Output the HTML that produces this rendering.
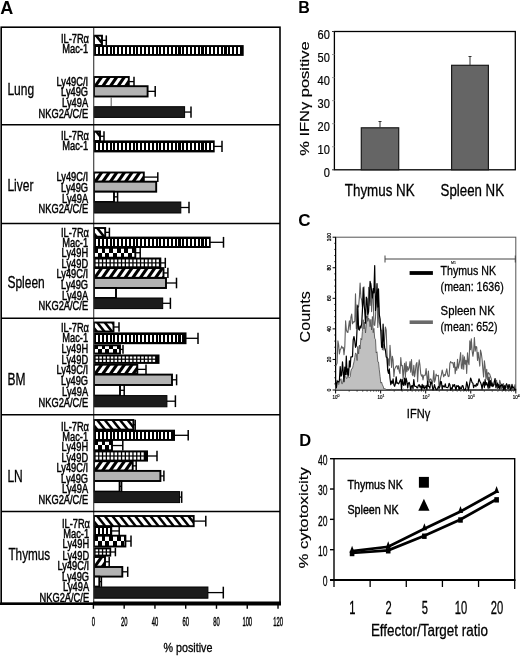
<!DOCTYPE html>
<html lang="en"><head><meta charset="utf-8"><title>Figure</title>
<style>html,body{margin:0;padding:0;background:#fff;overflow:hidden}svg{display:block}</style></head>
<body>
<svg width="520" height="656" viewBox="0 0 520 656" font-family='"Liberation Sans", Arial, sans-serif'>
<rect width="520" height="656" fill="#fff"/>
<text transform="translate(0.30,14.00)" font-size="18" text-anchor="start" font-weight="bold" fill="#000" stroke="#000" stroke-width="0">A</text>
<text transform="translate(298.30,12.50)" font-size="16" text-anchor="start" font-weight="bold" fill="#000" stroke="#000" stroke-width="0">B</text>
<text transform="translate(298.20,225.50)" font-size="17" text-anchor="start" font-weight="bold" fill="#000" stroke="#000" stroke-width="0">C</text>
<text transform="translate(299.20,446.30)" font-size="16.5" text-anchor="start" font-weight="bold" fill="#000" stroke="#000" stroke-width="0">D</text>
<svg x="94.00" y="35.70" width="8.00" height="9.30" viewBox="0 0 8.00 9.30"><polygon points="0.60,0 3.79,0 11.23,9.30 8.04,9.30" fill="#000"/></svg>
<rect x="94.00" y="35.70" width="8.00" height="9.30" fill="none" stroke="#000" stroke-width="1.9"/>
<line x1="102.00" y1="40.35" x2="106.30" y2="40.35" stroke="#000" stroke-width="1.3"/>
<line x1="106.30" y1="35.40" x2="106.30" y2="45.30" stroke="#000" stroke-width="1.5"/>
<rect x="93.50" y="45.10" width="150.20" height="10.80" fill="#000" stroke="none" stroke-width="1"/>
<g fill="#fff" shape-rendering="crispEdges"><rect x="96.30" y="47.30" width="1.75" height="6.40"/><rect x="100.13" y="47.30" width="1.75" height="6.40"/><rect x="103.96" y="47.30" width="1.75" height="6.40"/><rect x="107.79" y="47.30" width="1.75" height="6.40"/><rect x="111.62" y="47.30" width="1.75" height="6.40"/><rect x="115.45" y="47.30" width="1.75" height="6.40"/><rect x="119.28" y="47.30" width="1.75" height="6.40"/><rect x="123.11" y="47.30" width="1.75" height="6.40"/><rect x="126.94" y="47.30" width="1.75" height="6.40"/><rect x="130.77" y="47.30" width="1.75" height="6.40"/><rect x="134.60" y="47.30" width="1.75" height="6.40"/><rect x="138.43" y="47.30" width="1.75" height="6.40"/><rect x="142.26" y="47.30" width="1.75" height="6.40"/><rect x="146.09" y="47.30" width="1.75" height="6.40"/><rect x="149.92" y="47.30" width="1.75" height="6.40"/><rect x="153.75" y="47.30" width="1.75" height="6.40"/><rect x="157.58" y="47.30" width="1.75" height="6.40"/><rect x="161.41" y="47.30" width="1.75" height="6.40"/><rect x="165.24" y="47.30" width="1.75" height="6.40"/><rect x="169.07" y="47.30" width="1.75" height="6.40"/><rect x="172.90" y="47.30" width="1.75" height="6.40"/><rect x="176.73" y="47.30" width="1.75" height="6.40"/><rect x="180.56" y="47.30" width="1.75" height="6.40"/><rect x="184.39" y="47.30" width="1.75" height="6.40"/><rect x="188.22" y="47.30" width="1.75" height="6.40"/><rect x="192.05" y="47.30" width="1.75" height="6.40"/><rect x="195.88" y="47.30" width="1.75" height="6.40"/><rect x="199.71" y="47.30" width="1.75" height="6.40"/><rect x="203.54" y="47.30" width="1.75" height="6.40"/><rect x="207.37" y="47.30" width="1.75" height="6.40"/><rect x="211.20" y="47.30" width="1.75" height="6.40"/><rect x="215.03" y="47.30" width="1.75" height="6.40"/><rect x="218.86" y="47.30" width="1.75" height="6.40"/><rect x="222.69" y="47.30" width="1.75" height="6.40"/><rect x="226.52" y="47.30" width="1.75" height="6.40"/><rect x="230.35" y="47.30" width="1.75" height="6.40"/><rect x="234.18" y="47.30" width="1.75" height="6.40"/><rect x="238.01" y="47.30" width="1.75" height="6.40"/></g>
<svg x="94.00" y="77.00" width="34.80" height="9.20" viewBox="0 0 34.80 9.20"><polygon points="-17.10,0 -13.30,0 -19.74,9.20 -23.54,9.20" fill="#000"/><polygon points="-9.50,0 -5.70,0 -12.14,9.20 -15.94,9.20" fill="#000"/><polygon points="-1.90,0 1.90,0 -4.54,9.20 -8.34,9.20" fill="#000"/><polygon points="5.70,0 9.50,0 3.06,9.20 -0.74,9.20" fill="#000"/><polygon points="13.30,0 17.10,0 10.66,9.20 6.86,9.20" fill="#000"/><polygon points="20.90,0 24.70,0 18.26,9.20 14.46,9.20" fill="#000"/><polygon points="28.50,0 32.30,0 25.86,9.20 22.06,9.20" fill="#000"/><polygon points="36.10,0 39.90,0 33.46,9.20 29.66,9.20" fill="#000"/></svg>
<rect x="94.00" y="77.00" width="34.80" height="9.20" fill="none" stroke="#000" stroke-width="1.9"/>
<line x1="128.80" y1="81.60" x2="134.00" y2="81.60" stroke="#000" stroke-width="1.3"/>
<line x1="134.00" y1="76.70" x2="134.00" y2="86.50" stroke="#000" stroke-width="1.5"/>
<rect x="94.00" y="86.20" width="53.60" height="10.30" fill="#b3b3b3" stroke="#000" stroke-width="1.9"/>
<line x1="147.60" y1="91.35" x2="155.20" y2="91.35" stroke="#000" stroke-width="1.3"/>
<line x1="155.20" y1="85.90" x2="155.20" y2="96.80" stroke="#000" stroke-width="1.5"/>
<line x1="111.20" y1="97.30" x2="111.20" y2="106.20" stroke="#666" stroke-width="1.1"/>
<rect x="94.00" y="106.70" width="90.60" height="10.70" fill="#1c1c1c" stroke="#000" stroke-width="1"/>
<line x1="184.60" y1="112.05" x2="191.00" y2="112.05" stroke="#000" stroke-width="1.3"/>
<line x1="191.00" y1="106.40" x2="191.00" y2="117.70" stroke="#000" stroke-width="1.5"/>
<text transform="translate(89.00,42.90) scale(0.775,1)" font-size="12" text-anchor="end" fill="#000" stroke="#000" stroke-width="0.45">IL-7Rα</text>
<text transform="translate(88.10,53.40) scale(0.775,1)" font-size="12" text-anchor="end" fill="#000" stroke="#000" stroke-width="0.45">Mac-1</text>
<text transform="translate(88.10,85.80) scale(0.775,1)" font-size="12" text-anchor="end" fill="#000" stroke="#000" stroke-width="0.45">Ly49C/I</text>
<text transform="translate(88.10,96.30) scale(0.775,1)" font-size="12" text-anchor="end" fill="#000" stroke="#000" stroke-width="0.45">Ly49G</text>
<text transform="translate(88.10,107.00) scale(0.775,1)" font-size="12" text-anchor="end" fill="#000" stroke="#000" stroke-width="0.45">Ly49A</text>
<text transform="translate(88.10,117.90) scale(0.775,1)" font-size="12" text-anchor="end" fill="#000" stroke="#000" stroke-width="0.45">NKG2A/C/E</text>
<text transform="translate(7.40,94.60) scale(0.76,1)" font-size="15.8" text-anchor="start" fill="#000" stroke="#000" stroke-width="0.3">Lung</text>
<svg x="94.00" y="131.50" width="6.00" height="9.50" viewBox="0 0 6.00 9.50"><polygon points="0.60,0 3.79,0 11.39,9.50 8.20,9.50" fill="#000"/></svg>
<rect x="94.00" y="131.50" width="6.00" height="9.50" fill="none" stroke="#000" stroke-width="1.9"/>
<line x1="100.00" y1="136.25" x2="104.00" y2="136.25" stroke="#000" stroke-width="1.3"/>
<line x1="104.00" y1="131.20" x2="104.00" y2="141.30" stroke="#000" stroke-width="1.5"/>
<rect x="93.50" y="140.40" width="121.20" height="12.00" fill="#000" stroke="none" stroke-width="1"/>
<g fill="#fff" shape-rendering="crispEdges"><rect x="96.30" y="142.60" width="1.75" height="7.60"/><rect x="100.13" y="142.60" width="1.75" height="7.60"/><rect x="103.96" y="142.60" width="1.75" height="7.60"/><rect x="107.79" y="142.60" width="1.75" height="7.60"/><rect x="111.62" y="142.60" width="1.75" height="7.60"/><rect x="115.45" y="142.60" width="1.75" height="7.60"/><rect x="119.28" y="142.60" width="1.75" height="7.60"/><rect x="123.11" y="142.60" width="1.75" height="7.60"/><rect x="126.94" y="142.60" width="1.75" height="7.60"/><rect x="130.77" y="142.60" width="1.75" height="7.60"/><rect x="134.60" y="142.60" width="1.75" height="7.60"/><rect x="138.43" y="142.60" width="1.75" height="7.60"/><rect x="142.26" y="142.60" width="1.75" height="7.60"/><rect x="146.09" y="142.60" width="1.75" height="7.60"/><rect x="149.92" y="142.60" width="1.75" height="7.60"/><rect x="153.75" y="142.60" width="1.75" height="7.60"/><rect x="157.58" y="142.60" width="1.75" height="7.60"/><rect x="161.41" y="142.60" width="1.75" height="7.60"/><rect x="165.24" y="142.60" width="1.75" height="7.60"/><rect x="169.07" y="142.60" width="1.75" height="7.60"/><rect x="172.90" y="142.60" width="1.75" height="7.60"/><rect x="176.73" y="142.60" width="1.75" height="7.60"/><rect x="180.56" y="142.60" width="1.75" height="7.60"/><rect x="184.39" y="142.60" width="1.75" height="7.60"/><rect x="188.22" y="142.60" width="1.75" height="7.60"/><rect x="192.05" y="142.60" width="1.75" height="7.60"/><rect x="195.88" y="142.60" width="1.75" height="7.60"/><rect x="199.71" y="142.60" width="1.75" height="7.60"/><rect x="203.54" y="142.60" width="1.75" height="7.60"/><rect x="207.37" y="142.60" width="1.75" height="7.60"/><rect x="211.20" y="142.60" width="1.75" height="7.60"/></g>
<line x1="214.00" y1="146.40" x2="222.00" y2="146.40" stroke="#000" stroke-width="1.3"/>
<line x1="222.00" y1="140.70" x2="222.00" y2="152.10" stroke="#000" stroke-width="1.5"/>
<svg x="94.00" y="172.50" width="49.80" height="9.20" viewBox="0 0 49.80 9.20"><polygon points="-17.10,0 -13.30,0 -19.74,9.20 -23.54,9.20" fill="#000"/><polygon points="-9.50,0 -5.70,0 -12.14,9.20 -15.94,9.20" fill="#000"/><polygon points="-1.90,0 1.90,0 -4.54,9.20 -8.34,9.20" fill="#000"/><polygon points="5.70,0 9.50,0 3.06,9.20 -0.74,9.20" fill="#000"/><polygon points="13.30,0 17.10,0 10.66,9.20 6.86,9.20" fill="#000"/><polygon points="20.90,0 24.70,0 18.26,9.20 14.46,9.20" fill="#000"/><polygon points="28.50,0 32.30,0 25.86,9.20 22.06,9.20" fill="#000"/><polygon points="36.10,0 39.90,0 33.46,9.20 29.66,9.20" fill="#000"/><polygon points="43.70,0 47.50,0 41.06,9.20 37.26,9.20" fill="#000"/><polygon points="51.30,0 55.10,0 48.66,9.20 44.86,9.20" fill="#000"/></svg>
<rect x="94.00" y="172.50" width="49.80" height="9.20" fill="none" stroke="#000" stroke-width="1.9"/>
<line x1="143.80" y1="177.10" x2="157.80" y2="177.10" stroke="#000" stroke-width="1.3"/>
<line x1="157.80" y1="172.20" x2="157.80" y2="182.00" stroke="#000" stroke-width="1.5"/>
<rect x="94.00" y="181.70" width="62.20" height="10.00" fill="#b3b3b3" stroke="#000" stroke-width="1.9"/>
<rect x="94.00" y="191.70" width="20.00" height="10.30" fill="#fff" stroke="#000" stroke-width="1.9"/>
<line x1="114.00" y1="196.85" x2="117.60" y2="196.85" stroke="#000" stroke-width="1.3"/>
<line x1="117.60" y1="191.40" x2="117.60" y2="202.30" stroke="#000" stroke-width="1.5"/>
<rect x="94.00" y="202.00" width="86.80" height="11.00" fill="#1c1c1c" stroke="#000" stroke-width="1"/>
<line x1="180.80" y1="207.50" x2="189.00" y2="207.50" stroke="#000" stroke-width="1.3"/>
<line x1="189.00" y1="201.70" x2="189.00" y2="213.30" stroke="#000" stroke-width="1.5"/>
<text transform="translate(89.00,139.60) scale(0.775,1)" font-size="12" text-anchor="end" fill="#000" stroke="#000" stroke-width="0.45">IL-7Rα</text>
<text transform="translate(88.10,150.00) scale(0.775,1)" font-size="12" text-anchor="end" fill="#000" stroke="#000" stroke-width="0.45">Mac-1</text>
<text transform="translate(88.10,181.40) scale(0.775,1)" font-size="12" text-anchor="end" fill="#000" stroke="#000" stroke-width="0.45">Ly49C/I</text>
<text transform="translate(88.10,191.60) scale(0.775,1)" font-size="12" text-anchor="end" fill="#000" stroke="#000" stroke-width="0.45">Ly49G</text>
<text transform="translate(88.10,202.50) scale(0.775,1)" font-size="12" text-anchor="end" fill="#000" stroke="#000" stroke-width="0.45">Ly49A</text>
<text transform="translate(88.10,213.20) scale(0.775,1)" font-size="12" text-anchor="end" fill="#000" stroke="#000" stroke-width="0.45">NKG2A/C/E</text>
<text transform="translate(7.40,191.00) scale(0.76,1)" font-size="15.8" text-anchor="start" fill="#000" stroke="#000" stroke-width="0.3">Liver</text>
<svg x="94.00" y="228.00" width="11.20" height="8.70" viewBox="0 0 11.20 8.70"><polygon points="-21.20,0 -18.01,0 -11.05,8.70 -14.24,8.70" fill="#000"/><polygon points="-13.60,0 -10.41,0 -3.45,8.70 -6.64,8.70" fill="#000"/><polygon points="-6.00,0 -2.81,0 4.15,8.70 0.96,8.70" fill="#000"/><polygon points="1.60,0 4.79,0 11.75,8.70 8.56,8.70" fill="#000"/><polygon points="9.20,0 12.39,0 19.35,8.70 16.16,8.70" fill="#000"/></svg>
<rect x="94.00" y="228.00" width="11.20" height="8.70" fill="none" stroke="#000" stroke-width="1.9"/>
<line x1="105.20" y1="232.35" x2="109.40" y2="232.35" stroke="#000" stroke-width="1.3"/>
<line x1="109.40" y1="227.70" x2="109.40" y2="237.00" stroke="#000" stroke-width="1.5"/>
<rect x="93.50" y="236.60" width="117.20" height="11.40" fill="#000" stroke="none" stroke-width="1"/>
<g fill="#fff" shape-rendering="crispEdges"><rect x="96.30" y="238.80" width="1.75" height="7.00"/><rect x="100.13" y="238.80" width="1.75" height="7.00"/><rect x="103.96" y="238.80" width="1.75" height="7.00"/><rect x="107.79" y="238.80" width="1.75" height="7.00"/><rect x="111.62" y="238.80" width="1.75" height="7.00"/><rect x="115.45" y="238.80" width="1.75" height="7.00"/><rect x="119.28" y="238.80" width="1.75" height="7.00"/><rect x="123.11" y="238.80" width="1.75" height="7.00"/><rect x="126.94" y="238.80" width="1.75" height="7.00"/><rect x="130.77" y="238.80" width="1.75" height="7.00"/><rect x="134.60" y="238.80" width="1.75" height="7.00"/><rect x="138.43" y="238.80" width="1.75" height="7.00"/><rect x="142.26" y="238.80" width="1.75" height="7.00"/><rect x="146.09" y="238.80" width="1.75" height="7.00"/><rect x="149.92" y="238.80" width="1.75" height="7.00"/><rect x="153.75" y="238.80" width="1.75" height="7.00"/><rect x="157.58" y="238.80" width="1.75" height="7.00"/><rect x="161.41" y="238.80" width="1.75" height="7.00"/><rect x="165.24" y="238.80" width="1.75" height="7.00"/><rect x="169.07" y="238.80" width="1.75" height="7.00"/><rect x="172.90" y="238.80" width="1.75" height="7.00"/><rect x="176.73" y="238.80" width="1.75" height="7.00"/><rect x="180.56" y="238.80" width="1.75" height="7.00"/><rect x="184.39" y="238.80" width="1.75" height="7.00"/><rect x="188.22" y="238.80" width="1.75" height="7.00"/><rect x="192.05" y="238.80" width="1.75" height="7.00"/><rect x="195.88" y="238.80" width="1.75" height="7.00"/><rect x="199.71" y="238.80" width="1.75" height="7.00"/><rect x="203.54" y="238.80" width="1.75" height="7.00"/><rect x="207.37" y="238.80" width="1.75" height="7.00"/></g>
<line x1="210.00" y1="242.30" x2="223.50" y2="242.30" stroke="#000" stroke-width="1.3"/>
<line x1="223.50" y1="236.90" x2="223.50" y2="247.70" stroke="#000" stroke-width="1.5"/>
<rect x="94.00" y="247.80" width="41.30" height="9.90" fill="#fff" stroke="#000" stroke-width="1.9"/>
<g fill="#000" shape-rendering="crispEdges"><rect x="94.00" y="248.20" width="3.80" height="4.35"/><rect x="101.60" y="248.20" width="3.80" height="4.35"/><rect x="109.20" y="248.20" width="3.80" height="4.35"/><rect x="116.80" y="248.20" width="3.80" height="4.35"/><rect x="124.40" y="248.20" width="3.80" height="4.35"/><rect x="132.00" y="248.20" width="3.30" height="4.35"/><rect x="97.80" y="252.55" width="3.80" height="4.35"/><rect x="105.40" y="252.55" width="3.80" height="4.35"/><rect x="113.00" y="252.55" width="3.80" height="4.35"/><rect x="120.60" y="252.55" width="3.80" height="4.35"/><rect x="128.20" y="252.55" width="3.80" height="4.35"/></g>
<line x1="135.30" y1="252.75" x2="140.20" y2="252.75" stroke="#000" stroke-width="1.3"/>
<line x1="140.20" y1="247.50" x2="140.20" y2="258.00" stroke="#000" stroke-width="1.5"/>
<rect x="93.50" y="257.50" width="67.80" height="10.80" fill="#000" stroke="none" stroke-width="1"/>
<g fill="#fff"><rect x="95.60" y="259.50" width="2.5" height="2.80"/><rect x="99.40" y="259.50" width="2.5" height="2.80"/><rect x="103.20" y="259.50" width="2.5" height="2.80"/><rect x="107.00" y="259.50" width="2.5" height="2.80"/><rect x="110.80" y="259.50" width="2.5" height="2.80"/><rect x="114.60" y="259.50" width="2.5" height="2.80"/><rect x="118.40" y="259.50" width="2.5" height="2.80"/><rect x="122.20" y="259.50" width="2.5" height="2.80"/><rect x="126.00" y="259.50" width="2.5" height="2.80"/><rect x="129.80" y="259.50" width="2.5" height="2.80"/><rect x="133.60" y="259.50" width="2.5" height="2.80"/><rect x="137.40" y="259.50" width="2.5" height="2.80"/><rect x="141.20" y="259.50" width="2.5" height="2.80"/><rect x="145.00" y="259.50" width="2.5" height="2.80"/><rect x="148.80" y="259.50" width="2.5" height="2.80"/><rect x="152.60" y="259.50" width="2.5" height="2.80"/><rect x="156.40" y="259.50" width="2.5" height="2.80"/><rect x="95.60" y="263.50" width="2.5" height="2.80"/><rect x="99.40" y="263.50" width="2.5" height="2.80"/><rect x="103.20" y="263.50" width="2.5" height="2.80"/><rect x="107.00" y="263.50" width="2.5" height="2.80"/><rect x="110.80" y="263.50" width="2.5" height="2.80"/><rect x="114.60" y="263.50" width="2.5" height="2.80"/><rect x="118.40" y="263.50" width="2.5" height="2.80"/><rect x="122.20" y="263.50" width="2.5" height="2.80"/><rect x="126.00" y="263.50" width="2.5" height="2.80"/><rect x="129.80" y="263.50" width="2.5" height="2.80"/><rect x="133.60" y="263.50" width="2.5" height="2.80"/><rect x="137.40" y="263.50" width="2.5" height="2.80"/><rect x="141.20" y="263.50" width="2.5" height="2.80"/><rect x="145.00" y="263.50" width="2.5" height="2.80"/><rect x="148.80" y="263.50" width="2.5" height="2.80"/><rect x="152.60" y="263.50" width="2.5" height="2.80"/><rect x="156.40" y="263.50" width="2.5" height="2.80"/></g>
<line x1="160.60" y1="262.90" x2="165.30" y2="262.90" stroke="#000" stroke-width="1.3"/>
<line x1="165.30" y1="257.80" x2="165.30" y2="268.00" stroke="#000" stroke-width="1.5"/>
<svg x="94.00" y="268.10" width="69.50" height="9.70" viewBox="0 0 69.50 9.70"><polygon points="-17.10,0 -13.30,0 -20.09,9.70 -23.89,9.70" fill="#000"/><polygon points="-9.50,0 -5.70,0 -12.49,9.70 -16.29,9.70" fill="#000"/><polygon points="-1.90,0 1.90,0 -4.89,9.70 -8.69,9.70" fill="#000"/><polygon points="5.70,0 9.50,0 2.71,9.70 -1.09,9.70" fill="#000"/><polygon points="13.30,0 17.10,0 10.31,9.70 6.51,9.70" fill="#000"/><polygon points="20.90,0 24.70,0 17.91,9.70 14.11,9.70" fill="#000"/><polygon points="28.50,0 32.30,0 25.51,9.70 21.71,9.70" fill="#000"/><polygon points="36.10,0 39.90,0 33.11,9.70 29.31,9.70" fill="#000"/><polygon points="43.70,0 47.50,0 40.71,9.70 36.91,9.70" fill="#000"/><polygon points="51.30,0 55.10,0 48.31,9.70 44.51,9.70" fill="#000"/><polygon points="58.90,0 62.70,0 55.91,9.70 52.11,9.70" fill="#000"/><polygon points="66.50,0 70.30,0 63.51,9.70 59.71,9.70" fill="#000"/><polygon points="74.10,0 77.90,0 71.11,9.70 67.31,9.70" fill="#000"/></svg>
<rect x="94.00" y="268.10" width="69.50" height="9.70" fill="none" stroke="#000" stroke-width="1.9"/>
<line x1="163.50" y1="272.95" x2="167.90" y2="272.95" stroke="#000" stroke-width="1.3"/>
<line x1="167.90" y1="267.80" x2="167.90" y2="278.10" stroke="#000" stroke-width="1.5"/>
<rect x="94.00" y="278.00" width="72.00" height="10.00" fill="#b3b3b3" stroke="#000" stroke-width="1.9"/>
<line x1="166.00" y1="283.00" x2="176.50" y2="283.00" stroke="#000" stroke-width="1.3"/>
<line x1="176.50" y1="277.70" x2="176.50" y2="288.30" stroke="#000" stroke-width="1.5"/>
<rect x="94.00" y="288.00" width="22.00" height="10.00" fill="#fff" stroke="#000" stroke-width="1.9"/>
<rect x="94.00" y="298.00" width="68.70" height="10.60" fill="#1c1c1c" stroke="#000" stroke-width="1"/>
<line x1="162.70" y1="303.30" x2="170.40" y2="303.30" stroke="#000" stroke-width="1.3"/>
<line x1="170.40" y1="297.70" x2="170.40" y2="308.90" stroke="#000" stroke-width="1.5"/>
<text transform="translate(89.00,236.80) scale(0.775,1)" font-size="12" text-anchor="end" fill="#000" stroke="#000" stroke-width="0.45">IL-7Rα</text>
<text transform="translate(88.10,247.40) scale(0.775,1)" font-size="12" text-anchor="end" fill="#000" stroke="#000" stroke-width="0.45">Mac-1</text>
<text transform="translate(88.10,257.40) scale(0.775,1)" font-size="12" text-anchor="end" fill="#000" stroke="#000" stroke-width="0.45">Ly49H</text>
<text transform="translate(88.10,267.80) scale(0.775,1)" font-size="12" text-anchor="end" fill="#000" stroke="#000" stroke-width="0.45">Ly49D</text>
<text transform="translate(88.10,278.30) scale(0.775,1)" font-size="12" text-anchor="end" fill="#000" stroke="#000" stroke-width="0.45">Ly49C/I</text>
<text transform="translate(88.10,289.20) scale(0.775,1)" font-size="12" text-anchor="end" fill="#000" stroke="#000" stroke-width="0.45">Ly49G</text>
<text transform="translate(88.10,299.90) scale(0.775,1)" font-size="12" text-anchor="end" fill="#000" stroke="#000" stroke-width="0.45">Ly49A</text>
<text transform="translate(88.10,310.20) scale(0.775,1)" font-size="12" text-anchor="end" fill="#000" stroke="#000" stroke-width="0.45">NKG2A/C/E</text>
<text transform="translate(7.40,288.30) scale(0.76,1)" font-size="15.8" text-anchor="start" fill="#000" stroke="#000" stroke-width="0.3">Spleen</text>
<svg x="94.00" y="322.50" width="19.50" height="9.00" viewBox="0 0 19.50 9.00"><polygon points="-21.20,0 -18.01,0 -10.81,9.00 -14.00,9.00" fill="#000"/><polygon points="-13.60,0 -10.41,0 -3.21,9.00 -6.40,9.00" fill="#000"/><polygon points="-6.00,0 -2.81,0 4.39,9.00 1.20,9.00" fill="#000"/><polygon points="1.60,0 4.79,0 11.99,9.00 8.80,9.00" fill="#000"/><polygon points="9.20,0 12.39,0 19.59,9.00 16.40,9.00" fill="#000"/><polygon points="16.80,0 19.99,0 27.19,9.00 24.00,9.00" fill="#000"/></svg>
<rect x="94.00" y="322.50" width="19.50" height="9.00" fill="none" stroke="#000" stroke-width="1.9"/>
<line x1="113.50" y1="327.00" x2="119.00" y2="327.00" stroke="#000" stroke-width="1.3"/>
<line x1="119.00" y1="322.20" x2="119.00" y2="331.80" stroke="#000" stroke-width="1.5"/>
<rect x="93.50" y="332.40" width="93.00" height="11.80" fill="#000" stroke="none" stroke-width="1"/>
<g fill="#fff" shape-rendering="crispEdges"><rect x="96.30" y="334.60" width="1.75" height="7.40"/><rect x="100.13" y="334.60" width="1.75" height="7.40"/><rect x="103.96" y="334.60" width="1.75" height="7.40"/><rect x="107.79" y="334.60" width="1.75" height="7.40"/><rect x="111.62" y="334.60" width="1.75" height="7.40"/><rect x="115.45" y="334.60" width="1.75" height="7.40"/><rect x="119.28" y="334.60" width="1.75" height="7.40"/><rect x="123.11" y="334.60" width="1.75" height="7.40"/><rect x="126.94" y="334.60" width="1.75" height="7.40"/><rect x="130.77" y="334.60" width="1.75" height="7.40"/><rect x="134.60" y="334.60" width="1.75" height="7.40"/><rect x="138.43" y="334.60" width="1.75" height="7.40"/><rect x="142.26" y="334.60" width="1.75" height="7.40"/><rect x="146.09" y="334.60" width="1.75" height="7.40"/><rect x="149.92" y="334.60" width="1.75" height="7.40"/><rect x="153.75" y="334.60" width="1.75" height="7.40"/><rect x="157.58" y="334.60" width="1.75" height="7.40"/><rect x="161.41" y="334.60" width="1.75" height="7.40"/><rect x="165.24" y="334.60" width="1.75" height="7.40"/><rect x="169.07" y="334.60" width="1.75" height="7.40"/><rect x="172.90" y="334.60" width="1.75" height="7.40"/><rect x="176.73" y="334.60" width="1.75" height="7.40"/><rect x="180.56" y="334.60" width="1.75" height="7.40"/></g>
<line x1="185.80" y1="338.30" x2="198.00" y2="338.30" stroke="#000" stroke-width="1.3"/>
<line x1="198.00" y1="332.70" x2="198.00" y2="343.90" stroke="#000" stroke-width="1.5"/>
<rect x="94.00" y="345.30" width="26.00" height="8.20" fill="#fff" stroke="#000" stroke-width="1.9"/>
<g fill="#000" shape-rendering="crispEdges"><rect x="94.00" y="345.70" width="3.80" height="3.50"/><rect x="101.60" y="345.70" width="3.80" height="3.50"/><rect x="109.20" y="345.70" width="3.80" height="3.50"/><rect x="116.80" y="345.70" width="3.20" height="3.50"/><rect x="97.80" y="349.20" width="3.80" height="3.50"/><rect x="105.40" y="349.20" width="3.80" height="3.50"/><rect x="113.00" y="349.20" width="3.80" height="3.50"/></g>
<line x1="120.00" y1="349.40" x2="123.00" y2="349.40" stroke="#000" stroke-width="1.3"/>
<line x1="123.00" y1="345.00" x2="123.00" y2="353.80" stroke="#000" stroke-width="1.5"/>
<rect x="93.50" y="354.50" width="66.00" height="9.40" fill="#000" stroke="none" stroke-width="1"/>
<g fill="#fff"><rect x="95.60" y="356.50" width="2.5" height="2.10"/><rect x="99.40" y="356.50" width="2.5" height="2.10"/><rect x="103.20" y="356.50" width="2.5" height="2.10"/><rect x="107.00" y="356.50" width="2.5" height="2.10"/><rect x="110.80" y="356.50" width="2.5" height="2.10"/><rect x="114.60" y="356.50" width="2.5" height="2.10"/><rect x="118.40" y="356.50" width="2.5" height="2.10"/><rect x="122.20" y="356.50" width="2.5" height="2.10"/><rect x="126.00" y="356.50" width="2.5" height="2.10"/><rect x="129.80" y="356.50" width="2.5" height="2.10"/><rect x="133.60" y="356.50" width="2.5" height="2.10"/><rect x="137.40" y="356.50" width="2.5" height="2.10"/><rect x="141.20" y="356.50" width="2.5" height="2.10"/><rect x="145.00" y="356.50" width="2.5" height="2.10"/><rect x="148.80" y="356.50" width="2.5" height="2.10"/><rect x="152.60" y="356.50" width="2.5" height="2.10"/><rect x="95.60" y="359.80" width="2.5" height="2.10"/><rect x="99.40" y="359.80" width="2.5" height="2.10"/><rect x="103.20" y="359.80" width="2.5" height="2.10"/><rect x="107.00" y="359.80" width="2.5" height="2.10"/><rect x="110.80" y="359.80" width="2.5" height="2.10"/><rect x="114.60" y="359.80" width="2.5" height="2.10"/><rect x="118.40" y="359.80" width="2.5" height="2.10"/><rect x="122.20" y="359.80" width="2.5" height="2.10"/><rect x="126.00" y="359.80" width="2.5" height="2.10"/><rect x="129.80" y="359.80" width="2.5" height="2.10"/><rect x="133.60" y="359.80" width="2.5" height="2.10"/><rect x="137.40" y="359.80" width="2.5" height="2.10"/><rect x="141.20" y="359.80" width="2.5" height="2.10"/><rect x="145.00" y="359.80" width="2.5" height="2.10"/><rect x="148.80" y="359.80" width="2.5" height="2.10"/><rect x="152.60" y="359.80" width="2.5" height="2.10"/></g>
<svg x="94.00" y="364.70" width="43.30" height="9.30" viewBox="0 0 43.30 9.30"><polygon points="-17.10,0 -13.30,0 -19.81,9.30 -23.61,9.30" fill="#000"/><polygon points="-9.50,0 -5.70,0 -12.21,9.30 -16.01,9.30" fill="#000"/><polygon points="-1.90,0 1.90,0 -4.61,9.30 -8.41,9.30" fill="#000"/><polygon points="5.70,0 9.50,0 2.99,9.30 -0.81,9.30" fill="#000"/><polygon points="13.30,0 17.10,0 10.59,9.30 6.79,9.30" fill="#000"/><polygon points="20.90,0 24.70,0 18.19,9.30 14.39,9.30" fill="#000"/><polygon points="28.50,0 32.30,0 25.79,9.30 21.99,9.30" fill="#000"/><polygon points="36.10,0 39.90,0 33.39,9.30 29.59,9.30" fill="#000"/><polygon points="43.70,0 47.50,0 40.99,9.30 37.19,9.30" fill="#000"/></svg>
<rect x="94.00" y="364.70" width="43.30" height="9.30" fill="none" stroke="#000" stroke-width="1.9"/>
<line x1="137.30" y1="369.35" x2="146.00" y2="369.35" stroke="#000" stroke-width="1.3"/>
<line x1="146.00" y1="364.40" x2="146.00" y2="374.30" stroke="#000" stroke-width="1.5"/>
<rect x="94.00" y="374.60" width="78.00" height="10.40" fill="#b3b3b3" stroke="#000" stroke-width="1.9"/>
<line x1="172.00" y1="379.80" x2="176.60" y2="379.80" stroke="#000" stroke-width="1.3"/>
<line x1="176.60" y1="374.30" x2="176.60" y2="385.30" stroke="#000" stroke-width="1.5"/>
<rect x="94.00" y="385.00" width="26.00" height="10.60" fill="#fff" stroke="#000" stroke-width="1.9"/>
<line x1="120.00" y1="390.30" x2="124.20" y2="390.30" stroke="#000" stroke-width="1.3"/>
<line x1="124.20" y1="384.70" x2="124.20" y2="395.90" stroke="#000" stroke-width="1.5"/>
<rect x="94.00" y="395.60" width="72.90" height="11.20" fill="#1c1c1c" stroke="#000" stroke-width="1"/>
<line x1="166.90" y1="401.20" x2="175.40" y2="401.20" stroke="#000" stroke-width="1.3"/>
<line x1="175.40" y1="395.30" x2="175.40" y2="407.10" stroke="#000" stroke-width="1.5"/>
<text transform="translate(89.00,331.90) scale(0.775,1)" font-size="12" text-anchor="end" fill="#000" stroke="#000" stroke-width="0.45">IL-7Rα</text>
<text transform="translate(88.10,342.40) scale(0.775,1)" font-size="12" text-anchor="end" fill="#000" stroke="#000" stroke-width="0.45">Mac-1</text>
<text transform="translate(88.10,352.90) scale(0.775,1)" font-size="12" text-anchor="end" fill="#000" stroke="#000" stroke-width="0.45">Ly49H</text>
<text transform="translate(88.10,363.50) scale(0.775,1)" font-size="12" text-anchor="end" fill="#000" stroke="#000" stroke-width="0.45">Ly49D</text>
<text transform="translate(88.10,374.00) scale(0.775,1)" font-size="12" text-anchor="end" fill="#000" stroke="#000" stroke-width="0.45">Ly49C/I</text>
<text transform="translate(88.10,385.00) scale(0.775,1)" font-size="12" text-anchor="end" fill="#000" stroke="#000" stroke-width="0.45">Ly49G</text>
<text transform="translate(88.10,395.60) scale(0.775,1)" font-size="12" text-anchor="end" fill="#000" stroke="#000" stroke-width="0.45">Ly49A</text>
<text transform="translate(88.10,406.70) scale(0.775,1)" font-size="12" text-anchor="end" fill="#000" stroke="#000" stroke-width="0.45">NKG2A/C/E</text>
<text transform="translate(7.40,385.00) scale(0.76,1)" font-size="15.8" text-anchor="start" fill="#000" stroke="#000" stroke-width="0.3">BM</text>
<svg x="94.00" y="420.00" width="39.40" height="9.60" viewBox="0 0 39.40 9.60"><polygon points="-21.20,0 -18.01,0 -10.33,9.60 -13.52,9.60" fill="#000"/><polygon points="-13.60,0 -10.41,0 -2.73,9.60 -5.92,9.60" fill="#000"/><polygon points="-6.00,0 -2.81,0 4.87,9.60 1.68,9.60" fill="#000"/><polygon points="1.60,0 4.79,0 12.47,9.60 9.28,9.60" fill="#000"/><polygon points="9.20,0 12.39,0 20.07,9.60 16.88,9.60" fill="#000"/><polygon points="16.80,0 19.99,0 27.67,9.60 24.48,9.60" fill="#000"/><polygon points="24.40,0 27.59,0 35.27,9.60 32.08,9.60" fill="#000"/><polygon points="32.00,0 35.19,0 42.87,9.60 39.68,9.60" fill="#000"/></svg>
<rect x="94.00" y="420.00" width="39.40" height="9.60" fill="none" stroke="#000" stroke-width="1.9"/>
<line x1="133.40" y1="424.80" x2="135.20" y2="424.80" stroke="#000" stroke-width="1.3"/>
<line x1="135.20" y1="419.70" x2="135.20" y2="429.90" stroke="#000" stroke-width="1.5"/>
<rect x="93.50" y="429.70" width="81.50" height="11.20" fill="#000" stroke="none" stroke-width="1"/>
<g fill="#fff" shape-rendering="crispEdges"><rect x="96.30" y="431.90" width="1.75" height="6.80"/><rect x="100.13" y="431.90" width="1.75" height="6.80"/><rect x="103.96" y="431.90" width="1.75" height="6.80"/><rect x="107.79" y="431.90" width="1.75" height="6.80"/><rect x="111.62" y="431.90" width="1.75" height="6.80"/><rect x="115.45" y="431.90" width="1.75" height="6.80"/><rect x="119.28" y="431.90" width="1.75" height="6.80"/><rect x="123.11" y="431.90" width="1.75" height="6.80"/><rect x="126.94" y="431.90" width="1.75" height="6.80"/><rect x="130.77" y="431.90" width="1.75" height="6.80"/><rect x="134.60" y="431.90" width="1.75" height="6.80"/><rect x="138.43" y="431.90" width="1.75" height="6.80"/><rect x="142.26" y="431.90" width="1.75" height="6.80"/><rect x="146.09" y="431.90" width="1.75" height="6.80"/><rect x="149.92" y="431.90" width="1.75" height="6.80"/><rect x="153.75" y="431.90" width="1.75" height="6.80"/><rect x="157.58" y="431.90" width="1.75" height="6.80"/><rect x="161.41" y="431.90" width="1.75" height="6.80"/><rect x="165.24" y="431.90" width="1.75" height="6.80"/><rect x="169.07" y="431.90" width="1.75" height="6.80"/></g>
<line x1="174.30" y1="435.30" x2="188.20" y2="435.30" stroke="#000" stroke-width="1.3"/>
<line x1="188.20" y1="430.00" x2="188.20" y2="440.60" stroke="#000" stroke-width="1.5"/>
<rect x="94.00" y="440.80" width="18.00" height="9.50" fill="#fff" stroke="#000" stroke-width="1.9"/>
<g fill="#000" shape-rendering="crispEdges"><rect x="94.00" y="441.20" width="3.80" height="4.15"/><rect x="101.60" y="441.20" width="3.80" height="4.15"/><rect x="109.20" y="441.20" width="2.80" height="4.15"/><rect x="97.80" y="445.35" width="3.80" height="4.15"/><rect x="105.40" y="445.35" width="3.80" height="4.15"/></g>
<line x1="112.00" y1="445.55" x2="122.80" y2="445.55" stroke="#000" stroke-width="1.3"/>
<line x1="122.80" y1="440.50" x2="122.80" y2="450.60" stroke="#000" stroke-width="1.5"/>
<rect x="93.50" y="450.40" width="54.50" height="11.20" fill="#000" stroke="none" stroke-width="1"/>
<g fill="#fff"><rect x="95.60" y="452.40" width="2.5" height="3.00"/><rect x="99.40" y="452.40" width="2.5" height="3.00"/><rect x="103.20" y="452.40" width="2.5" height="3.00"/><rect x="107.00" y="452.40" width="2.5" height="3.00"/><rect x="110.80" y="452.40" width="2.5" height="3.00"/><rect x="114.60" y="452.40" width="2.5" height="3.00"/><rect x="118.40" y="452.40" width="2.5" height="3.00"/><rect x="122.20" y="452.40" width="2.5" height="3.00"/><rect x="126.00" y="452.40" width="2.5" height="3.00"/><rect x="129.80" y="452.40" width="2.5" height="3.00"/><rect x="133.60" y="452.40" width="2.5" height="3.00"/><rect x="137.40" y="452.40" width="2.5" height="3.00"/><rect x="141.20" y="452.40" width="2.5" height="3.00"/><rect x="95.60" y="456.60" width="2.5" height="3.00"/><rect x="99.40" y="456.60" width="2.5" height="3.00"/><rect x="103.20" y="456.60" width="2.5" height="3.00"/><rect x="107.00" y="456.60" width="2.5" height="3.00"/><rect x="110.80" y="456.60" width="2.5" height="3.00"/><rect x="114.60" y="456.60" width="2.5" height="3.00"/><rect x="118.40" y="456.60" width="2.5" height="3.00"/><rect x="122.20" y="456.60" width="2.5" height="3.00"/><rect x="126.00" y="456.60" width="2.5" height="3.00"/><rect x="129.80" y="456.60" width="2.5" height="3.00"/><rect x="133.60" y="456.60" width="2.5" height="3.00"/><rect x="137.40" y="456.60" width="2.5" height="3.00"/><rect x="141.20" y="456.60" width="2.5" height="3.00"/></g>
<line x1="147.30" y1="456.00" x2="157.00" y2="456.00" stroke="#000" stroke-width="1.3"/>
<line x1="157.00" y1="450.70" x2="157.00" y2="461.30" stroke="#000" stroke-width="1.5"/>
<svg x="94.00" y="461.20" width="38.70" height="9.30" viewBox="0 0 38.70 9.30"><polygon points="-17.10,0 -13.30,0 -19.81,9.30 -23.61,9.30" fill="#000"/><polygon points="-9.50,0 -5.70,0 -12.21,9.30 -16.01,9.30" fill="#000"/><polygon points="-1.90,0 1.90,0 -4.61,9.30 -8.41,9.30" fill="#000"/><polygon points="5.70,0 9.50,0 2.99,9.30 -0.81,9.30" fill="#000"/><polygon points="13.30,0 17.10,0 10.59,9.30 6.79,9.30" fill="#000"/><polygon points="20.90,0 24.70,0 18.19,9.30 14.39,9.30" fill="#000"/><polygon points="28.50,0 32.30,0 25.79,9.30 21.99,9.30" fill="#000"/><polygon points="36.10,0 39.90,0 33.39,9.30 29.59,9.30" fill="#000"/><polygon points="43.70,0 47.50,0 40.99,9.30 37.19,9.30" fill="#000"/></svg>
<rect x="94.00" y="461.20" width="38.70" height="9.30" fill="none" stroke="#000" stroke-width="1.9"/>
<line x1="132.70" y1="465.85" x2="136.20" y2="465.85" stroke="#000" stroke-width="1.3"/>
<line x1="136.20" y1="460.90" x2="136.20" y2="470.80" stroke="#000" stroke-width="1.5"/>
<rect x="94.00" y="470.90" width="66.40" height="10.10" fill="#b3b3b3" stroke="#000" stroke-width="1.9"/>
<line x1="160.40" y1="475.95" x2="163.90" y2="475.95" stroke="#000" stroke-width="1.3"/>
<line x1="163.90" y1="470.60" x2="163.90" y2="481.30" stroke="#000" stroke-width="1.5"/>
<rect x="94.00" y="481.00" width="25.60" height="10.60" fill="#fff" stroke="#000" stroke-width="1.9"/>
<line x1="119.60" y1="486.30" x2="121.60" y2="486.30" stroke="#000" stroke-width="1.3"/>
<line x1="121.60" y1="480.70" x2="121.60" y2="491.90" stroke="#000" stroke-width="1.5"/>
<rect x="94.00" y="491.60" width="85.60" height="11.00" fill="#1c1c1c" stroke="#000" stroke-width="1"/>
<line x1="179.60" y1="497.10" x2="181.70" y2="497.10" stroke="#000" stroke-width="1.3"/>
<line x1="181.70" y1="491.30" x2="181.70" y2="502.90" stroke="#000" stroke-width="1.5"/>
<text transform="translate(89.00,430.70) scale(0.775,1)" font-size="12" text-anchor="end" fill="#000" stroke="#000" stroke-width="0.45">IL-7Rα</text>
<text transform="translate(88.10,440.80) scale(0.775,1)" font-size="12" text-anchor="end" fill="#000" stroke="#000" stroke-width="0.45">Mac-1</text>
<text transform="translate(88.10,451.20) scale(0.775,1)" font-size="12" text-anchor="end" fill="#000" stroke="#000" stroke-width="0.45">Ly49H</text>
<text transform="translate(88.10,462.00) scale(0.775,1)" font-size="12" text-anchor="end" fill="#000" stroke="#000" stroke-width="0.45">Ly49D</text>
<text transform="translate(88.10,472.00) scale(0.775,1)" font-size="12" text-anchor="end" fill="#000" stroke="#000" stroke-width="0.45">Ly49C/I</text>
<text transform="translate(88.10,482.60) scale(0.775,1)" font-size="12" text-anchor="end" fill="#000" stroke="#000" stroke-width="0.45">Ly49G</text>
<text transform="translate(88.10,493.30) scale(0.775,1)" font-size="12" text-anchor="end" fill="#000" stroke="#000" stroke-width="0.45">Ly49A</text>
<text transform="translate(88.10,504.20) scale(0.775,1)" font-size="12" text-anchor="end" fill="#000" stroke="#000" stroke-width="0.45">NKG2A/C/E</text>
<text transform="translate(7.40,481.50) scale(0.76,1)" font-size="15.8" text-anchor="start" fill="#000" stroke="#000" stroke-width="0.3">LN</text>
<svg x="94.00" y="516.00" width="99.70" height="10.20" viewBox="0 0 99.70 10.20"><polygon points="-21.20,0 -18.01,0 -9.85,10.20 -13.04,10.20" fill="#000"/><polygon points="-13.60,0 -10.41,0 -2.25,10.20 -5.44,10.20" fill="#000"/><polygon points="-6.00,0 -2.81,0 5.35,10.20 2.16,10.20" fill="#000"/><polygon points="1.60,0 4.79,0 12.95,10.20 9.76,10.20" fill="#000"/><polygon points="9.20,0 12.39,0 20.55,10.20 17.36,10.20" fill="#000"/><polygon points="16.80,0 19.99,0 28.15,10.20 24.96,10.20" fill="#000"/><polygon points="24.40,0 27.59,0 35.75,10.20 32.56,10.20" fill="#000"/><polygon points="32.00,0 35.19,0 43.35,10.20 40.16,10.20" fill="#000"/><polygon points="39.60,0 42.79,0 50.95,10.20 47.76,10.20" fill="#000"/><polygon points="47.20,0 50.39,0 58.55,10.20 55.36,10.20" fill="#000"/><polygon points="54.80,0 57.99,0 66.15,10.20 62.96,10.20" fill="#000"/><polygon points="62.40,0 65.59,0 73.75,10.20 70.56,10.20" fill="#000"/><polygon points="70.00,0 73.19,0 81.35,10.20 78.16,10.20" fill="#000"/><polygon points="77.60,0 80.79,0 88.95,10.20 85.76,10.20" fill="#000"/><polygon points="85.20,0 88.39,0 96.55,10.20 93.36,10.20" fill="#000"/><polygon points="92.80,0 95.99,0 104.15,10.20 100.96,10.20" fill="#000"/></svg>
<rect x="94.00" y="516.00" width="99.70" height="10.20" fill="none" stroke="#000" stroke-width="1.9"/>
<line x1="193.70" y1="521.10" x2="205.80" y2="521.10" stroke="#000" stroke-width="1.3"/>
<line x1="205.80" y1="515.70" x2="205.80" y2="526.50" stroke="#000" stroke-width="1.5"/>
<rect x="93.50" y="525.60" width="18.70" height="10.70" fill="#000" stroke="none" stroke-width="1"/>
<g fill="#fff" shape-rendering="crispEdges"><rect x="96.30" y="527.80" width="1.75" height="6.30"/><rect x="100.13" y="527.80" width="1.75" height="6.30"/><rect x="103.96" y="527.80" width="1.75" height="6.30"/><rect x="107.79" y="527.80" width="1.75" height="6.30"/></g>
<line x1="111.50" y1="530.95" x2="119.20" y2="530.95" stroke="#000" stroke-width="1.3"/>
<line x1="119.20" y1="525.90" x2="119.20" y2="536.00" stroke="#000" stroke-width="1.5"/>
<rect x="94.00" y="535.70" width="31.40" height="10.80" fill="#fff" stroke="#000" stroke-width="1.9"/>
<g fill="#000" shape-rendering="crispEdges"><rect x="94.00" y="536.10" width="3.80" height="4.80"/><rect x="101.60" y="536.10" width="3.80" height="4.80"/><rect x="109.20" y="536.10" width="3.80" height="4.80"/><rect x="116.80" y="536.10" width="3.80" height="4.80"/><rect x="124.40" y="536.10" width="1.00" height="4.80"/><rect x="97.80" y="540.90" width="3.80" height="4.80"/><rect x="105.40" y="540.90" width="3.80" height="4.80"/><rect x="113.00" y="540.90" width="3.80" height="4.80"/><rect x="120.60" y="540.90" width="3.80" height="4.80"/></g>
<line x1="125.40" y1="541.10" x2="131.00" y2="541.10" stroke="#000" stroke-width="1.3"/>
<line x1="131.00" y1="535.40" x2="131.00" y2="546.80" stroke="#000" stroke-width="1.5"/>
<rect x="93.50" y="547.40" width="17.70" height="9.20" fill="#000" stroke="none" stroke-width="1"/>
<g fill="#fff"><rect x="95.60" y="549.40" width="2.5" height="2.00"/><rect x="99.40" y="549.40" width="2.5" height="2.00"/><rect x="103.20" y="549.40" width="2.5" height="2.00"/><rect x="107.00" y="549.40" width="2.5" height="2.00"/><rect x="95.60" y="552.60" width="2.5" height="2.00"/><rect x="99.40" y="552.60" width="2.5" height="2.00"/><rect x="103.20" y="552.60" width="2.5" height="2.00"/><rect x="107.00" y="552.60" width="2.5" height="2.00"/></g>
<line x1="110.50" y1="552.00" x2="115.40" y2="552.00" stroke="#000" stroke-width="1.3"/>
<line x1="115.40" y1="547.70" x2="115.40" y2="556.30" stroke="#000" stroke-width="1.5"/>
<svg x="94.00" y="557.00" width="11.00" height="9.60" viewBox="0 0 11.00 9.60"><polygon points="-17.10,0 -13.30,0 -20.02,9.60 -23.82,9.60" fill="#000"/><polygon points="-9.50,0 -5.70,0 -12.42,9.60 -16.22,9.60" fill="#000"/><polygon points="-1.90,0 1.90,0 -4.82,9.60 -8.62,9.60" fill="#000"/><polygon points="5.70,0 9.50,0 2.78,9.60 -1.02,9.60" fill="#000"/><polygon points="13.30,0 17.10,0 10.38,9.60 6.58,9.60" fill="#000"/></svg>
<rect x="94.00" y="557.00" width="11.00" height="9.60" fill="none" stroke="#000" stroke-width="1.9"/>
<line x1="105.00" y1="561.80" x2="109.20" y2="561.80" stroke="#000" stroke-width="1.3"/>
<line x1="109.20" y1="556.70" x2="109.20" y2="566.90" stroke="#000" stroke-width="1.5"/>
<rect x="94.00" y="567.00" width="28.30" height="9.60" fill="#b3b3b3" stroke="#000" stroke-width="1.9"/>
<line x1="122.30" y1="571.80" x2="127.70" y2="571.80" stroke="#000" stroke-width="1.3"/>
<line x1="127.70" y1="566.70" x2="127.70" y2="576.90" stroke="#000" stroke-width="1.5"/>
<rect x="94.00" y="576.60" width="5.30" height="10.00" fill="#fff" stroke="#000" stroke-width="1.9"/>
<line x1="99.30" y1="581.60" x2="101.40" y2="581.60" stroke="#000" stroke-width="1.3"/>
<line x1="101.40" y1="576.30" x2="101.40" y2="586.90" stroke="#000" stroke-width="1.5"/>
<rect x="94.00" y="587.00" width="113.90" height="11.20" fill="#1c1c1c" stroke="#000" stroke-width="1"/>
<line x1="207.90" y1="592.60" x2="223.30" y2="592.60" stroke="#000" stroke-width="1.3"/>
<line x1="223.30" y1="586.70" x2="223.30" y2="598.50" stroke="#000" stroke-width="1.5"/>
<text transform="translate(90.00,527.50) scale(0.775,1)" font-size="12" text-anchor="end" fill="#000" stroke="#000" stroke-width="0.45">IL-7Rα</text>
<text transform="translate(89.10,538.00) scale(0.775,1)" font-size="12" text-anchor="end" fill="#000" stroke="#000" stroke-width="0.45">Mac-1</text>
<text transform="translate(89.10,548.40) scale(0.775,1)" font-size="12" text-anchor="end" fill="#000" stroke="#000" stroke-width="0.45">Ly49H</text>
<text transform="translate(89.10,559.60) scale(0.775,1)" font-size="12" text-anchor="end" fill="#000" stroke="#000" stroke-width="0.45">Ly49D</text>
<text transform="translate(89.10,570.30) scale(0.775,1)" font-size="12" text-anchor="end" fill="#000" stroke="#000" stroke-width="0.45">Ly49C/I</text>
<text transform="translate(89.10,581.40) scale(0.775,1)" font-size="12" text-anchor="end" fill="#000" stroke="#000" stroke-width="0.45">Ly49G</text>
<text transform="translate(89.10,591.30) scale(0.775,1)" font-size="12" text-anchor="end" fill="#000" stroke="#000" stroke-width="0.45">Ly49A</text>
<text transform="translate(89.10,602.00) scale(0.775,1)" font-size="12" text-anchor="end" fill="#000" stroke="#000" stroke-width="0.45">NKG2A/C/E</text>
<text transform="translate(8.40,559.80) scale(0.745,1)" font-size="15.8" text-anchor="start" fill="#000" stroke="#000" stroke-width="0.3">Thymus</text>
<line x1="93.70" y1="27.20" x2="93.70" y2="603.50" stroke="#444" stroke-width="1.2"/>
<rect x="1.20" y="27.20" width="278.80" height="576.30" fill="none" stroke="#000" stroke-width="1.6"/>
<line x1="1.00" y1="124.80" x2="280.00" y2="124.80" stroke="#000" stroke-width="1.5"/>
<line x1="1.00" y1="223.40" x2="280.00" y2="223.40" stroke="#000" stroke-width="1.5"/>
<line x1="1.00" y1="318.20" x2="280.00" y2="318.20" stroke="#000" stroke-width="1.5"/>
<line x1="1.00" y1="414.70" x2="280.00" y2="414.70" stroke="#000" stroke-width="1.5"/>
<line x1="1.00" y1="511.60" x2="280.00" y2="511.60" stroke="#000" stroke-width="1.5"/>
<line x1="0.00" y1="603.70" x2="281.00" y2="603.70" stroke="#000" stroke-width="2.4"/>
<line x1="93.00" y1="603.50" x2="281.00" y2="603.50" stroke="#000" stroke-width="4.0"/>
<line x1="93.40" y1="603.50" x2="93.40" y2="608.80" stroke="#000" stroke-width="1.4"/>
<text transform="translate(93.40,626.00) scale(0.47,1)" font-size="12.4" text-anchor="middle" fill="#000" stroke="#000" stroke-width="0.45">0</text>
<line x1="124.17" y1="603.50" x2="124.17" y2="608.80" stroke="#000" stroke-width="1.4"/>
<text transform="translate(124.17,626.00) scale(0.47,1)" font-size="12.4" text-anchor="middle" fill="#000" stroke="#000" stroke-width="0.45">20</text>
<line x1="154.94" y1="603.50" x2="154.94" y2="608.80" stroke="#000" stroke-width="1.4"/>
<text transform="translate(154.94,626.00) scale(0.47,1)" font-size="12.4" text-anchor="middle" fill="#000" stroke="#000" stroke-width="0.45">40</text>
<line x1="185.71" y1="603.50" x2="185.71" y2="608.80" stroke="#000" stroke-width="1.4"/>
<text transform="translate(185.71,626.00) scale(0.47,1)" font-size="12.4" text-anchor="middle" fill="#000" stroke="#000" stroke-width="0.45">60</text>
<line x1="216.48" y1="603.50" x2="216.48" y2="608.80" stroke="#000" stroke-width="1.4"/>
<text transform="translate(216.48,626.00) scale(0.47,1)" font-size="12.4" text-anchor="middle" fill="#000" stroke="#000" stroke-width="0.45">80</text>
<line x1="247.25" y1="603.50" x2="247.25" y2="608.80" stroke="#000" stroke-width="1.4"/>
<text transform="translate(247.25,626.00) scale(0.47,1)" font-size="12.4" text-anchor="middle" fill="#000" stroke="#000" stroke-width="0.45">100</text>
<line x1="278.02" y1="603.50" x2="278.02" y2="608.80" stroke="#000" stroke-width="1.4"/>
<text transform="translate(278.02,626.00) scale(0.47,1)" font-size="12.4" text-anchor="middle" fill="#000" stroke="#000" stroke-width="0.45">120</text>
<text transform="translate(188.00,651.60) scale(0.86,1)" font-size="12.5" text-anchor="middle" fill="#000" stroke="#000" stroke-width="0.3">% positive</text>
<rect x="334.40" y="31.50" width="180.90" height="138.30" fill="none" stroke="#000" stroke-width="1.3"/>
<line x1="332.00" y1="169.80" x2="334.40" y2="169.80" stroke="#333" stroke-width="1.0"/>
<text transform="translate(329.90,177.30) scale(0.9,1)" font-size="12.3" text-anchor="end" fill="#000" stroke="#000" stroke-width="0.2">0</text>
<line x1="332.00" y1="146.75" x2="334.40" y2="146.75" stroke="#999" stroke-width="1.0"/>
<text transform="translate(329.90,154.25) scale(0.9,1)" font-size="12.3" text-anchor="end" fill="#000" stroke="#000" stroke-width="0.2">10</text>
<line x1="332.00" y1="123.70" x2="334.40" y2="123.70" stroke="#999" stroke-width="1.0"/>
<text transform="translate(329.90,131.20) scale(0.9,1)" font-size="12.3" text-anchor="end" fill="#000" stroke="#000" stroke-width="0.2">20</text>
<line x1="332.00" y1="100.65" x2="334.40" y2="100.65" stroke="#999" stroke-width="1.0"/>
<text transform="translate(329.90,108.15) scale(0.9,1)" font-size="12.3" text-anchor="end" fill="#000" stroke="#000" stroke-width="0.2">30</text>
<line x1="332.00" y1="77.60" x2="334.40" y2="77.60" stroke="#999" stroke-width="1.0"/>
<text transform="translate(329.90,85.10) scale(0.9,1)" font-size="12.3" text-anchor="end" fill="#000" stroke="#000" stroke-width="0.2">40</text>
<line x1="332.00" y1="54.55" x2="334.40" y2="54.55" stroke="#999" stroke-width="1.0"/>
<text transform="translate(329.90,62.05) scale(0.9,1)" font-size="12.3" text-anchor="end" fill="#000" stroke="#000" stroke-width="0.2">50</text>
<line x1="332.00" y1="31.50" x2="334.40" y2="31.50" stroke="#333" stroke-width="1.0"/>
<text transform="translate(329.90,39.00) scale(0.9,1)" font-size="12.3" text-anchor="end" fill="#000" stroke="#000" stroke-width="0.2">60</text>
<rect x="361.30" y="127.80" width="37.40" height="42.00" fill="#656565" stroke="#1a1a1a" stroke-width="1.2"/>
<line x1="380.00" y1="127.80" x2="380.00" y2="121.50" stroke="#333" stroke-width="1.0"/>
<line x1="378.50" y1="121.50" x2="381.50" y2="121.50" stroke="#333" stroke-width="1.0"/>
<rect x="451.60" y="65.30" width="36.80" height="104.50" fill="#656565" stroke="#1a1a1a" stroke-width="1.2"/>
<line x1="470.00" y1="65.30" x2="470.00" y2="56.50" stroke="#333" stroke-width="1.0"/>
<line x1="468.50" y1="56.50" x2="471.50" y2="56.50" stroke="#333" stroke-width="1.0"/>
<text transform="translate(344.80,195.60)" font-size="16" textLength="69.80" lengthAdjust="spacingAndGlyphs" fill="#000" stroke="#000" stroke-width="0.3">Thymus NK</text>
<text transform="translate(440.60,195.60)" font-size="16" textLength="63.40" lengthAdjust="spacingAndGlyphs" fill="#000" stroke="#000" stroke-width="0.3">Spleen NK</text>
<text transform="translate(309.20,155.80) rotate(-90)" font-size="12" textLength="114.40" lengthAdjust="spacingAndGlyphs" fill="#000" stroke="#000" stroke-width="0.15">% IFNγ positive</text>
<rect x="335.60" y="237.20" width="180.20" height="152.80" fill="none" stroke="#555" stroke-width="1.0"/>
<line x1="335.60" y1="237.20" x2="335.60" y2="390.00" stroke="#000" stroke-width="1.2"/>
<line x1="335.60" y1="390.00" x2="515.80" y2="390.00" stroke="#000" stroke-width="1.2"/>
<line x1="332.60" y1="390.00" x2="335.60" y2="390.00" stroke="#000" stroke-width="1"/>
<line x1="334.00" y1="383.89" x2="335.60" y2="383.89" stroke="#000" stroke-width="0.6"/>
<line x1="334.00" y1="377.78" x2="335.60" y2="377.78" stroke="#000" stroke-width="0.6"/>
<line x1="334.00" y1="371.66" x2="335.60" y2="371.66" stroke="#000" stroke-width="0.6"/>
<line x1="334.00" y1="365.55" x2="335.60" y2="365.55" stroke="#000" stroke-width="0.6"/>
<text transform="translate(331.20,390.00) rotate(-90)" font-size="5" text-anchor="middle" fill="#000" stroke="#000" stroke-width="0.25">0</text>
<line x1="332.60" y1="359.44" x2="335.60" y2="359.44" stroke="#000" stroke-width="1"/>
<line x1="334.00" y1="353.33" x2="335.60" y2="353.33" stroke="#000" stroke-width="0.6"/>
<line x1="334.00" y1="347.22" x2="335.60" y2="347.22" stroke="#000" stroke-width="0.6"/>
<line x1="334.00" y1="341.10" x2="335.60" y2="341.10" stroke="#000" stroke-width="0.6"/>
<line x1="334.00" y1="334.99" x2="335.60" y2="334.99" stroke="#000" stroke-width="0.6"/>
<text transform="translate(331.20,359.44) rotate(-90)" font-size="5" text-anchor="middle" fill="#000" stroke="#000" stroke-width="0.25">20</text>
<line x1="332.60" y1="328.88" x2="335.60" y2="328.88" stroke="#000" stroke-width="1"/>
<line x1="334.00" y1="322.77" x2="335.60" y2="322.77" stroke="#000" stroke-width="0.6"/>
<line x1="334.00" y1="316.66" x2="335.60" y2="316.66" stroke="#000" stroke-width="0.6"/>
<line x1="334.00" y1="310.54" x2="335.60" y2="310.54" stroke="#000" stroke-width="0.6"/>
<line x1="334.00" y1="304.43" x2="335.60" y2="304.43" stroke="#000" stroke-width="0.6"/>
<text transform="translate(331.20,328.88) rotate(-90)" font-size="5" text-anchor="middle" fill="#000" stroke="#000" stroke-width="0.25">40</text>
<line x1="332.60" y1="298.32" x2="335.60" y2="298.32" stroke="#000" stroke-width="1"/>
<line x1="334.00" y1="292.21" x2="335.60" y2="292.21" stroke="#000" stroke-width="0.6"/>
<line x1="334.00" y1="286.10" x2="335.60" y2="286.10" stroke="#000" stroke-width="0.6"/>
<line x1="334.00" y1="279.98" x2="335.60" y2="279.98" stroke="#000" stroke-width="0.6"/>
<line x1="334.00" y1="273.87" x2="335.60" y2="273.87" stroke="#000" stroke-width="0.6"/>
<text transform="translate(331.20,298.32) rotate(-90)" font-size="5" text-anchor="middle" fill="#000" stroke="#000" stroke-width="0.25">60</text>
<line x1="332.60" y1="267.76" x2="335.60" y2="267.76" stroke="#000" stroke-width="1"/>
<line x1="334.00" y1="261.65" x2="335.60" y2="261.65" stroke="#000" stroke-width="0.6"/>
<line x1="334.00" y1="255.54" x2="335.60" y2="255.54" stroke="#000" stroke-width="0.6"/>
<line x1="334.00" y1="249.42" x2="335.60" y2="249.42" stroke="#000" stroke-width="0.6"/>
<line x1="334.00" y1="243.31" x2="335.60" y2="243.31" stroke="#000" stroke-width="0.6"/>
<text transform="translate(331.20,267.76) rotate(-90)" font-size="5" text-anchor="middle" fill="#000" stroke="#000" stroke-width="0.25">80</text>
<line x1="332.60" y1="237.20" x2="335.60" y2="237.20" stroke="#000" stroke-width="1"/>
<text transform="translate(331.20,237.20) rotate(-90)" font-size="5" text-anchor="middle" fill="#000" stroke="#000" stroke-width="0.25">100</text>
<line x1="335.60" y1="390.00" x2="335.60" y2="393.50" stroke="#000" stroke-width="1"/>
<line x1="349.16" y1="390.00" x2="349.16" y2="391.80" stroke="#000" stroke-width="0.6"/>
<line x1="357.09" y1="390.00" x2="357.09" y2="391.80" stroke="#000" stroke-width="0.6"/>
<line x1="362.72" y1="390.00" x2="362.72" y2="391.80" stroke="#000" stroke-width="0.6"/>
<line x1="367.09" y1="390.00" x2="367.09" y2="391.80" stroke="#000" stroke-width="0.6"/>
<line x1="370.66" y1="390.00" x2="370.66" y2="391.80" stroke="#000" stroke-width="0.6"/>
<line x1="373.67" y1="390.00" x2="373.67" y2="391.80" stroke="#000" stroke-width="0.6"/>
<line x1="376.28" y1="390.00" x2="376.28" y2="391.80" stroke="#000" stroke-width="0.6"/>
<line x1="378.59" y1="390.00" x2="378.59" y2="391.80" stroke="#000" stroke-width="0.6"/>
<line x1="380.65" y1="390.00" x2="380.65" y2="393.50" stroke="#000" stroke-width="1"/>
<line x1="394.21" y1="390.00" x2="394.21" y2="391.80" stroke="#000" stroke-width="0.6"/>
<line x1="402.14" y1="390.00" x2="402.14" y2="391.80" stroke="#000" stroke-width="0.6"/>
<line x1="407.77" y1="390.00" x2="407.77" y2="391.80" stroke="#000" stroke-width="0.6"/>
<line x1="412.14" y1="390.00" x2="412.14" y2="391.80" stroke="#000" stroke-width="0.6"/>
<line x1="415.71" y1="390.00" x2="415.71" y2="391.80" stroke="#000" stroke-width="0.6"/>
<line x1="418.72" y1="390.00" x2="418.72" y2="391.80" stroke="#000" stroke-width="0.6"/>
<line x1="421.33" y1="390.00" x2="421.33" y2="391.80" stroke="#000" stroke-width="0.6"/>
<line x1="423.64" y1="390.00" x2="423.64" y2="391.80" stroke="#000" stroke-width="0.6"/>
<line x1="425.70" y1="390.00" x2="425.70" y2="393.50" stroke="#000" stroke-width="1"/>
<line x1="439.26" y1="390.00" x2="439.26" y2="391.80" stroke="#000" stroke-width="0.6"/>
<line x1="447.19" y1="390.00" x2="447.19" y2="391.80" stroke="#000" stroke-width="0.6"/>
<line x1="452.82" y1="390.00" x2="452.82" y2="391.80" stroke="#000" stroke-width="0.6"/>
<line x1="457.19" y1="390.00" x2="457.19" y2="391.80" stroke="#000" stroke-width="0.6"/>
<line x1="460.76" y1="390.00" x2="460.76" y2="391.80" stroke="#000" stroke-width="0.6"/>
<line x1="463.77" y1="390.00" x2="463.77" y2="391.80" stroke="#000" stroke-width="0.6"/>
<line x1="466.38" y1="390.00" x2="466.38" y2="391.80" stroke="#000" stroke-width="0.6"/>
<line x1="468.69" y1="390.00" x2="468.69" y2="391.80" stroke="#000" stroke-width="0.6"/>
<line x1="470.75" y1="390.00" x2="470.75" y2="393.50" stroke="#000" stroke-width="1"/>
<line x1="484.31" y1="390.00" x2="484.31" y2="391.80" stroke="#000" stroke-width="0.6"/>
<line x1="492.24" y1="390.00" x2="492.24" y2="391.80" stroke="#000" stroke-width="0.6"/>
<line x1="497.87" y1="390.00" x2="497.87" y2="391.80" stroke="#000" stroke-width="0.6"/>
<line x1="502.24" y1="390.00" x2="502.24" y2="391.80" stroke="#000" stroke-width="0.6"/>
<line x1="505.81" y1="390.00" x2="505.81" y2="391.80" stroke="#000" stroke-width="0.6"/>
<line x1="508.82" y1="390.00" x2="508.82" y2="391.80" stroke="#000" stroke-width="0.6"/>
<line x1="511.43" y1="390.00" x2="511.43" y2="391.80" stroke="#000" stroke-width="0.6"/>
<line x1="513.74" y1="390.00" x2="513.74" y2="391.80" stroke="#000" stroke-width="0.6"/>
<line x1="515.80" y1="390.00" x2="515.80" y2="393.50" stroke="#000" stroke-width="1"/>
<text x="336.00" y="398.80" font-size="4.5" text-anchor="middle" stroke="#000" stroke-width="0.15">10<tspan dy="-2" font-size="3.5">0</tspan></text>
<text x="381.05" y="398.80" font-size="4.5" text-anchor="middle" stroke="#000" stroke-width="0.15">10<tspan dy="-2" font-size="3.5">1</tspan></text>
<text x="426.10" y="398.80" font-size="4.5" text-anchor="middle" stroke="#000" stroke-width="0.15">10<tspan dy="-2" font-size="3.5">2</tspan></text>
<text x="471.15" y="398.80" font-size="4.5" text-anchor="middle" stroke="#000" stroke-width="0.15">10<tspan dy="-2" font-size="3.5">3</tspan></text>
<text x="516.20" y="398.80" font-size="4.5" text-anchor="middle" stroke="#000" stroke-width="0.15">10<tspan dy="-2" font-size="3.5">4</tspan></text>
<line x1="385.00" y1="259.00" x2="515.50" y2="259.00" stroke="#444" stroke-width="1.0"/>
<line x1="385.00" y1="255.50" x2="385.00" y2="262.50" stroke="#444" stroke-width="1.0"/>
<line x1="515.30" y1="255.50" x2="515.30" y2="262.50" stroke="#444" stroke-width="1.0"/>
<text transform="translate(453.50,263.60)" font-size="3.5" text-anchor="middle" fill="#000" stroke="#000" stroke-width="0.1">M1</text>
<polygon points="335.6,390.0 335.6,384.9 336.4,381.4 337.1,379.9 337.9,382.9 338.7,384.5 339.4,381.6 340.2,380.3 341.0,378.7 341.7,383.7 342.5,383.7 343.3,378.6 344.0,378.6 344.8,375.4 345.6,376.2 346.3,378.4 347.1,378.3 347.9,372.0 348.6,377.4 349.4,377.7 350.2,376.8 350.9,371.0 351.7,368.7 352.5,368.4 353.2,365.3 354.0,361.7 354.8,357.3 355.5,352.9 356.3,354.0 357.1,360.5 357.8,346.4 358.6,353.9 359.4,345.0 360.1,348.9 360.9,338.4 361.7,339.8 362.4,331.4 363.2,319.7 364.0,329.0 364.7,322.0 365.5,333.0 366.3,325.0 367.0,317.4 367.8,321.4 368.6,318.1 369.3,319.4 370.1,326.7 370.9,319.4 371.6,330.0 372.4,316.5 373.2,332.7 373.9,328.4 374.7,338.2 375.5,339.4 376.2,353.0 377.0,351.8 377.8,361.8 378.5,362.0 379.3,369.8 380.1,376.6 380.8,383.1 381.6,382.1 382.4,385.0 383.1,386.1 383.9,389.0 384.7,388.6 385.4,388.9 386.2,389.4 387.0,389.7 387.7,389.9 388.5,390.0 389.3,390.0 390.0,390.0 390.8,389.7 391.6,389.2 392.3,389.5 393.1,389.5 393.9,389.6 394.6,389.6 395.4,389.9 396.2,389.6 396.9,389.1 397.7,390.0 398.5,390.0 399.2,389.0 400.0,389.9 400.8,389.5 401.5,389.6 402.3,390.0 403.1,389.0 403.8,389.1 404.6,389.9 405.4,389.6 406.1,389.9 406.9,390.0 407.7,390.0 408.4,389.8 409.2,389.4 410.0,389.6 410.7,390.0 411.5,389.3 412.3,390.0 413.0,389.6 413.8,389.4 414.6,390.0 415.3,390.0 416.1,390.0 416.9,389.9 417.6,389.7 418.4,389.2 419.2,390.0 419.9,390.0 420.7,389.7 421.5,390.0 422.2,390.0 423.0,389.6 423.8,389.0 424.5,389.5 425.3,390.0 426.1,390.0 426.9,389.9 427.6,389.0 428.4,389.7 429.2,389.9 429.9,389.2 430.7,390.0 431.5,389.1 432.2,390.0 433.0,390.0 433.8,389.6 434.5,389.3 435.3,389.7 436.1,389.8 436.8,390.0 437.6,390.0 438.4,390.0 439.1,390.0 439.9,389.7 440.7,390.0 441.4,389.6 442.2,390.0 443.0,390.0 443.7,389.9 444.5,389.8 445.3,389.6 446.0,390.0 446.8,390.0 447.6,390.0 448.3,389.2 449.1,389.3 449.9,390.0 450.6,390.0 451.4,390.0 452.2,389.9 452.9,389.9 453.7,389.0 454.5,389.9 455.2,390.0 456.0,390.0 456.8,389.3 457.5,389.9 458.3,390.0 459.1,389.9 459.8,390.0 460.6,389.0 461.4,389.4 462.1,389.7 462.9,390.0 463.7,390.0 464.4,390.0 465.2,390.0 466.0,389.7 466.7,390.0 467.5,390.0 468.3,389.4 469.0,389.2 469.8,390.0 470.6,390.0 471.3,389.6 472.1,389.6 472.9,390.0 473.6,390.0 474.4,390.0 475.2,390.0 475.9,390.0 476.7,389.4 477.5,389.7 478.2,389.0 479.0,390.0 479.8,390.0 480.5,390.0 481.3,390.0 482.1,390.0 482.8,390.0 483.6,389.7 484.4,389.3 485.1,389.6 485.9,389.3 486.7,389.9 487.4,390.0 488.2,390.0 489.0,390.0 489.7,390.0 490.5,390.0 491.3,390.0 492.0,390.0 492.8,389.9 493.6,390.0 494.3,389.3 495.1,389.9 495.9,389.7 496.6,389.4 497.4,390.0 498.2,390.0 498.9,389.6 499.7,390.0 500.5,389.3 501.2,389.8 502.0,389.5 502.8,389.6 503.5,390.0 504.3,389.6 505.1,390.0 505.8,390.0 506.6,390.0 507.4,389.6 508.1,389.6 508.9,389.5 509.7,390.0 510.4,390.0 511.2,390.0 512.0,390.0 512.7,389.7 513.5,390.0 514.3,389.9 515.0,389.9 515.8,389.5 515.8,390.0" fill="#c0c0c0" stroke="#4a4a4a" stroke-width="0.8"/>
<polyline points="335.6,365.9 336.4,364.8 337.1,363.1 337.9,340.9 338.7,345.0 339.4,354.0 340.2,349.6 341.0,348.7 341.7,346.1 342.5,348.1 343.3,347.5 344.0,354.8 344.8,346.9 345.6,320.9 346.3,329.6 347.1,332.0 347.9,332.4 348.6,326.7 349.4,320.8 350.2,329.8 350.9,317.3 351.7,314.1 352.5,323.7 353.2,321.8 354.0,322.2 354.8,321.2 355.5,293.7 356.3,328.4 357.1,304.8 357.8,307.4 358.6,306.8 359.4,297.0 360.1,283.0 360.9,297.3 361.7,300.2 362.4,306.7 363.2,300.5 364.0,286.9 364.7,305.1 365.5,315.7 366.3,317.8 367.0,316.1 367.8,320.2 368.6,287.2 369.3,297.4 370.1,305.5 370.9,283.3 371.6,311.6 372.4,293.5 373.2,293.4 373.9,324.8 374.7,325.4 375.5,317.6 376.2,294.5 377.0,292.6 377.8,327.4 378.5,302.0 379.3,322.4 380.1,325.3 380.8,329.9 381.6,330.3 382.4,349.8 383.1,344.0 383.9,350.1 384.7,336.7 385.4,327.0 386.2,330.2 387.0,353.3 387.7,367.8 388.5,358.9 389.3,365.7 390.0,345.2 390.8,356.6 391.6,367.5 392.3,356.2 393.1,360.2 393.9,376.7 394.6,369.4 395.4,367.6 396.2,366.1 396.9,365.6 397.7,369.1 398.5,365.7 399.2,371.2 400.0,373.6 400.8,357.6 401.5,365.7 402.3,365.4 403.1,379.1 403.8,369.8 404.6,363.4 405.4,377.3 406.1,361.8 406.9,371.6 407.7,366.5 408.4,370.1 409.2,367.9 410.0,361.6 410.7,372.1 411.5,359.5 412.3,374.7 413.0,375.7 413.8,365.3 414.6,376.7 415.3,372.3 416.1,364.3 416.9,362.6 417.6,381.7 418.4,367.9 419.2,359.9 419.9,364.5 420.7,373.6 421.5,376.1 422.2,374.7 423.0,380.0 423.8,375.3 424.5,375.2 425.3,375.3 426.1,368.5 426.9,376.7 427.6,383.8 428.4,371.1 429.2,382.5 429.9,379.8 430.7,378.8 431.5,380.3 432.2,383.8 433.0,380.5 433.8,370.5 434.5,382.1 435.3,379.9 436.1,374.1 436.8,375.8 437.6,375.8 438.4,375.3 439.1,388.1 439.9,382.9 440.7,377.5 441.4,374.9 442.2,370.1 443.0,373.6 443.7,376.8 444.5,374.6 445.3,375.4 446.0,372.1 446.8,368.9 447.6,374.3 448.3,376.6 449.1,376.3 449.9,363.5 450.6,361.6 451.4,362.8 452.2,363.0 452.9,362.5 453.7,367.5 454.5,362.3 455.2,373.6 456.0,367.1 456.8,370.3 457.5,359.3 458.3,368.1 459.1,364.3 459.8,360.1 460.6,352.5 461.4,368.1 462.1,368.8 462.9,355.0 463.7,369.3 464.4,356.8 465.2,364.3 466.0,360.2 466.7,373.4 467.5,352.8 468.3,362.1 469.0,364.7 469.8,340.9 470.6,349.8 471.3,338.9 472.1,350.6 472.9,356.3 473.6,351.5 474.4,337.5 475.2,351.1 475.9,346.5 476.7,347.0 477.5,360.4 478.2,352.4 479.0,358.7 479.8,366.1 480.5,350.1 481.3,353.3 482.1,359.5 482.8,368.4 483.6,377.0 484.4,360.9 485.1,366.6 485.9,378.7 486.7,369.2 487.4,380.0 488.2,372.5 489.0,373.4 489.7,374.1 490.5,376.8 491.3,378.9 492.0,386.2 492.8,384.1 493.6,385.1 494.3,384.5 495.1,383.3 495.9,382.7 496.6,380.2 497.4,390.0 498.2,384.4 498.9,386.3 499.7,380.2 500.5,383.1 501.2,390.0 502.0,384.9 502.8,387.6 503.5,383.5 504.3,389.2 505.1,386.7 505.8,386.9 506.6,386.8 507.4,388.2 508.1,390.0 508.9,385.7 509.7,384.5 510.4,387.2 511.2,389.6 512.0,386.8 512.7,386.0 513.5,387.8 514.3,387.6 515.0,384.5 515.8,390.0" fill="none" stroke="#5e5e5e" stroke-width="1.1" stroke-linejoin="round"/>
<polyline points="335.6,381.9 336.4,387.8 337.1,381.7 337.9,381.4 338.7,382.1 339.4,380.3 340.2,366.6 341.0,376.2 341.7,374.7 342.5,361.9 343.3,372.3 344.0,381.7 344.8,367.2 345.6,374.7 346.3,356.1 347.1,374.6 347.9,368.8 348.6,375.1 349.4,360.8 350.2,367.0 350.9,356.9 351.7,356.9 352.5,356.6 353.2,339.9 354.0,336.5 354.8,341.1 355.5,347.3 356.3,345.8 357.1,327.9 357.8,305.8 358.6,329.2 359.4,330.0 360.1,326.1 360.9,328.0 361.7,323.6 362.4,310.9 363.2,287.7 364.0,304.8 364.7,310.0 365.5,323.2 366.3,297.2 367.0,298.9 367.8,314.4 368.6,311.8 369.3,296.7 370.1,281.3 370.9,285.8 371.6,290.9 372.4,297.9 373.2,288.5 373.9,292.8 374.7,265.5 375.5,310.5 376.2,302.8 377.0,283.6 377.8,307.1 378.5,288.8 379.3,314.5 380.1,319.0 380.8,331.3 381.6,347.2 382.4,347.5 383.1,324.2 383.9,342.0 384.7,347.9 385.4,350.0 386.2,357.0 387.0,357.6 387.7,370.2 388.5,373.4 389.3,368.9 390.0,378.2 390.8,384.7 391.6,381.0 392.3,383.3 393.1,378.8 393.9,384.7 394.6,386.3 395.4,383.7 396.2,376.8 396.9,383.3 397.7,382.9 398.5,383.8 399.2,382.9 400.0,380.8 400.8,379.2 401.5,389.8 402.3,379.5 403.1,384.3 403.8,385.4 404.6,378.0 405.4,385.0 406.1,378.2 406.9,381.4 407.7,388.0 408.4,383.1 409.2,382.4 410.0,385.3 410.7,390.0 411.5,386.1 412.3,385.6 413.0,388.6 413.8,379.5 414.6,386.0 415.3,386.5 416.1,386.3 416.9,387.8 417.6,387.8 418.4,385.3 419.2,384.7 419.9,387.2 420.7,386.0 421.5,389.9 422.2,384.4 423.0,388.1 423.8,385.4 424.5,388.6 425.3,387.6 426.1,385.6 426.9,389.6 427.6,381.0 428.4,386.3 429.2,386.5 429.9,388.3 430.7,381.9 431.5,382.5 432.2,385.5 433.0,390.0 433.8,387.7 434.5,384.7 435.3,387.8 436.1,389.6 436.8,389.6 437.6,388.5 438.4,386.4 439.1,388.2 439.9,386.4 440.7,381.4 441.4,381.8 442.2,389.3 443.0,385.6 443.7,386.3 444.5,386.9 445.3,383.9 446.0,387.5 446.8,387.5 447.6,387.6 448.3,386.9 449.1,383.3 449.9,384.7 450.6,390.0 451.4,387.9 452.2,388.8 452.9,384.7 453.7,386.2 454.5,384.5 455.2,387.0 456.0,390.0 456.8,385.7 457.5,386.3 458.3,385.6 459.1,390.0 459.8,386.7 460.6,388.6 461.4,388.6 462.1,385.9 462.9,385.6 463.7,388.7 464.4,390.0 465.2,390.0 466.0,387.2 466.7,381.8 467.5,385.2 468.3,390.0 469.0,387.4 469.8,382.8 470.6,378.1 471.3,379.8 472.1,382.6 472.9,383.2 473.6,387.6 474.4,385.5 475.2,385.1 475.9,386.6 476.7,383.7 477.5,385.3 478.2,382.7 479.0,378.8 479.8,381.3 480.5,382.4 481.3,384.7 482.1,389.2 482.8,384.3 483.6,382.0 484.4,387.4 485.1,379.5 485.9,385.1 486.7,382.6 487.4,385.0 488.2,388.3 489.0,377.2 489.7,388.0 490.5,380.7 491.3,385.8 492.0,382.9 492.8,386.7 493.6,385.5 494.3,381.3 495.1,378.5 495.9,387.7 496.6,385.4 497.4,383.0 498.2,387.9 498.9,384.5 499.7,388.8 500.5,385.5 501.2,385.9 502.0,384.1 502.8,386.2 503.5,390.0 504.3,385.6 505.1,389.8 505.8,385.4 506.6,383.7 507.4,385.9 508.1,388.6 508.9,384.6 509.7,387.0 510.4,390.0 511.2,388.3 512.0,384.3 512.7,388.2 513.5,387.3 514.3,388.4 515.0,390.0 515.8,388.8" fill="none" stroke="#000" stroke-width="1.2" stroke-linejoin="round"/>
<line x1="409.60" y1="273.00" x2="432.90" y2="273.00" stroke="#000" stroke-width="3.8"/>
<text transform="translate(440.60,275.00)" font-size="13.4" textLength="55.40" lengthAdjust="spacingAndGlyphs" fill="#000" stroke="#000" stroke-width="0.3">Thymus NK</text>
<text transform="translate(440.60,290.60)" font-size="13.4" textLength="63.10" lengthAdjust="spacingAndGlyphs" fill="#000" stroke="#000" stroke-width="0.3">(mean: 1636)</text>
<line x1="409.60" y1="322.20" x2="432.90" y2="322.20" stroke="#6a6a6a" stroke-width="3.6"/>
<text transform="translate(440.60,315.30)" font-size="13.4" textLength="54.10" lengthAdjust="spacingAndGlyphs" fill="#000" stroke="#000" stroke-width="0.3">Spleen NK</text>
<text transform="translate(440.60,331.20)" font-size="13.4" textLength="56.80" lengthAdjust="spacingAndGlyphs" fill="#000" stroke="#000" stroke-width="0.3">(mean: 652)</text>
<text transform="translate(309.80,342.40) rotate(-90)" font-size="14" textLength="51.20" lengthAdjust="spacingAndGlyphs" fill="#000" stroke="#000" stroke-width="0.1">Counts</text>
<text transform="translate(418.50,417.50) scale(0.82,1)" font-size="13.5" text-anchor="middle" fill="#000" stroke="#000" stroke-width="0.3">IFNγ</text>
<rect x="334.00" y="458.70" width="180.70" height="121.30" fill="none" stroke="#000" stroke-width="1.4"/>
<line x1="330.00" y1="580.00" x2="515.40" y2="580.00" stroke="#000" stroke-width="2.0"/>
<line x1="330.00" y1="580.00" x2="334.00" y2="580.00" stroke="#000" stroke-width="1.4"/>
<text transform="translate(327.40,586.40) scale(0.56,1)" font-size="15.3" text-anchor="end" fill="#000" stroke="#000" stroke-width="0.3">0</text>
<line x1="330.00" y1="549.67" x2="334.00" y2="549.67" stroke="#000" stroke-width="1.4"/>
<text transform="translate(327.40,556.07) scale(0.56,1)" font-size="15.3" text-anchor="end" fill="#000" stroke="#000" stroke-width="0.3">10</text>
<line x1="330.00" y1="519.35" x2="334.00" y2="519.35" stroke="#000" stroke-width="1.4"/>
<text transform="translate(327.40,525.75) scale(0.56,1)" font-size="15.3" text-anchor="end" fill="#000" stroke="#000" stroke-width="0.3">20</text>
<line x1="330.00" y1="489.02" x2="334.00" y2="489.02" stroke="#000" stroke-width="1.4"/>
<text transform="translate(327.40,495.42) scale(0.56,1)" font-size="15.3" text-anchor="end" fill="#000" stroke="#000" stroke-width="0.3">30</text>
<line x1="330.00" y1="458.70" x2="334.00" y2="458.70" stroke="#000" stroke-width="1.4"/>
<text transform="translate(327.40,465.10) scale(0.56,1)" font-size="15.3" text-anchor="end" fill="#000" stroke="#000" stroke-width="0.3">40</text>
<line x1="334.00" y1="580.00" x2="334.00" y2="587.00" stroke="#000" stroke-width="1.3"/>
<line x1="370.14" y1="580.00" x2="370.14" y2="587.00" stroke="#000" stroke-width="1.3"/>
<line x1="406.28" y1="580.00" x2="406.28" y2="587.00" stroke="#000" stroke-width="1.3"/>
<line x1="442.42" y1="580.00" x2="442.42" y2="587.00" stroke="#000" stroke-width="1.3"/>
<line x1="478.56" y1="580.00" x2="478.56" y2="587.00" stroke="#000" stroke-width="1.3"/>
<line x1="514.70" y1="580.00" x2="514.70" y2="589.00" stroke="#000" stroke-width="1.3"/>
<polyline points="352.1,553.0 388.2,550.3 424.4,535.7 460.5,519.5 496.6,499.3" fill="none" stroke="#000" stroke-width="2.7"/>
<polyline points="352.1,551.2 388.2,546.8 424.4,528.8 460.5,511.5 496.6,491.5" fill="none" stroke="#000" stroke-width="2.7"/>
<rect x="349.77" y="550.81" width="4.60" height="5.40" fill="#000" stroke="none" stroke-width="1"/>
<rect x="385.91" y="548.08" width="4.60" height="5.40" fill="#000" stroke="none" stroke-width="1"/>
<rect x="422.05" y="533.53" width="4.60" height="5.40" fill="#000" stroke="none" stroke-width="1"/>
<rect x="458.19" y="517.30" width="4.60" height="5.40" fill="#000" stroke="none" stroke-width="1"/>
<rect x="494.33" y="497.14" width="4.60" height="5.40" fill="#000" stroke="none" stroke-width="1"/>
<polygon points="352.1,545.7 349.5,552.7 354.7,552.7" fill="#000"/>
<polygon points="388.2,541.3 385.6,548.3 390.8,548.3" fill="#000"/>
<polygon points="424.4,523.3 421.8,530.3 427.0,530.3" fill="#000"/>
<polygon points="460.5,506.0 457.9,513.0 463.1,513.0" fill="#000"/>
<polygon points="496.6,486.0 494.0,493.0 499.2,493.0" fill="#000"/>
<text transform="translate(352.47,613.90) scale(0.61,1)" font-size="18.3" text-anchor="middle" fill="#000" stroke="#000" stroke-width="0.3">1</text>
<text transform="translate(388.61,613.90) scale(0.61,1)" font-size="18.3" text-anchor="middle" fill="#000" stroke="#000" stroke-width="0.3">2</text>
<text transform="translate(424.75,613.90) scale(0.61,1)" font-size="18.3" text-anchor="middle" fill="#000" stroke="#000" stroke-width="0.3">5</text>
<text transform="translate(460.89,613.90) scale(0.61,1)" font-size="18.3" text-anchor="middle" fill="#000" stroke="#000" stroke-width="0.3">10</text>
<text transform="translate(497.03,613.90) scale(0.61,1)" font-size="18.3" text-anchor="middle" fill="#000" stroke="#000" stroke-width="0.3">20</text>
<text transform="translate(370.90,636.40)" font-size="16.5" textLength="117.00" lengthAdjust="spacingAndGlyphs" fill="#000" stroke="#000" stroke-width="0.3">Effector/Target ratio</text>
<text transform="translate(308.20,568.60) rotate(-90)" font-size="12.3" textLength="101.40" lengthAdjust="spacingAndGlyphs" fill="#000" stroke="#000" stroke-width="0.15">% cytotoxicity</text>
<text transform="translate(347.60,489.00)" font-size="13.2" textLength="55.20" lengthAdjust="spacingAndGlyphs" fill="#000" stroke="#000" stroke-width="0.4">Thymus NK</text>
<text transform="translate(347.40,514.30)" font-size="13.2" textLength="51.20" lengthAdjust="spacingAndGlyphs" fill="#000" stroke="#000" stroke-width="0.4">Spleen NK</text>
<rect x="418.90" y="476.90" width="10.00" height="10.80" fill="#000" stroke="none" stroke-width="1"/>
<polygon points="423.9,498.8 418.3,510.8 429.5,510.8" fill="#000"/>
</svg>
</body></html>
